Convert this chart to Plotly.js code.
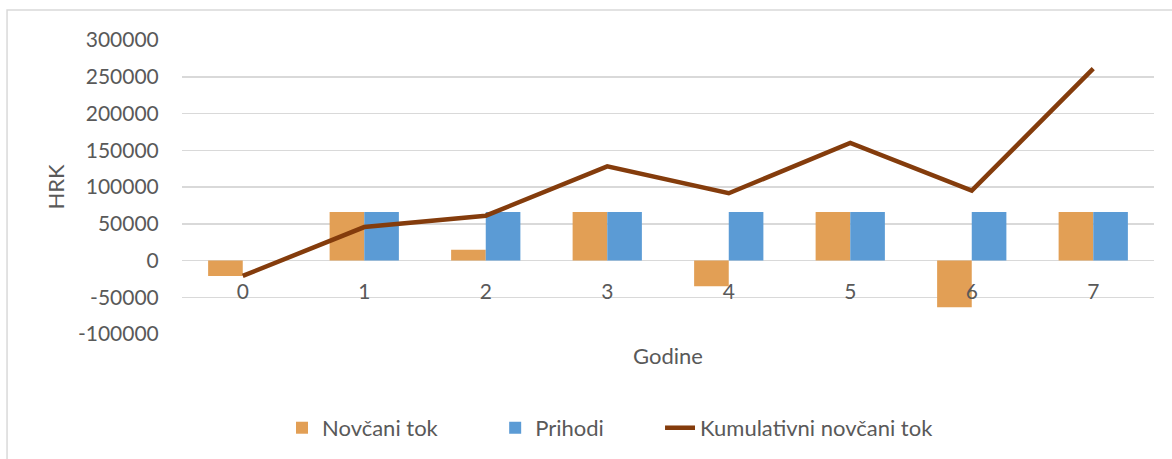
<!DOCTYPE html>
<html>
<head>
<meta charset="utf-8">
<script src="https://cdn.plot.ly/plotly-3.0.1.min.js"></script>
<style>
html,body{margin:0;padding:0;background:#fff;}
#chart{width:1172px;height:459px;}
</style>
</head>
<body>
<div id="chart"></div>
<script>
const years = ["0","1","2","3","4","5","6","7"];
const novcaniTok = [-21000, 66000, 14500, 66000, -35000, 66000, -63500, 66000];
const prihodi = [0, 66000, 66000, 66000, 66000, 66000, 66000, 66000];
const kumulativni = [-21000, 45500, 61000, 128000, 91500, 160000, 95000, 261000];
const yTicks = [-100000, -50000, 0, 50000, 100000, 150000, 200000, 250000, 300000];

const FONT = "Lato, 'Open Sans', sans-serif";
const GREY = "#595959";

const traces = [
  {type:"bar", name:"Novčani tok", x:years, y:novcaniTok, marker:{color:"#E29F55"}, legend:"legend"},
  {type:"bar", name:"Prihodi", x:years, y:prihodi, marker:{color:"#5B9BD5"}, legend:"legend2"},
  {type:"scatter", mode:"lines", name:"Kumulativni novčani tok", x:years, y:kumulativni,
   line:{color:"#843C0C", width:4.5}, legend:"legend3"}
];

const legendStyle = (x) => ({orientation:"h", x:x, xanchor:"left", y:-0.315, yanchor:"middle",
  font:{family:FONT, size:22, color:GREY}, bgcolor:"rgba(0,0,0,0)"});

const layout = {
  width:1172, height:459,
  margin:{l:182, r:18, t:40, b:124},
  paper_bgcolor:"#fff", plot_bgcolor:"#fff",
  font:{family:FONT, color:GREY, size:21},
  barmode:"group", bargap:0.43, bargroupgap:0,
  showlegend:true,
  legend:legendStyle(0.1029),
  legend2:legendStyle(0.3222),
  legend3:legendStyle(0.4918),
  xaxis:{type:"category", anchor:"free", position:0.25, showgrid:false, zeroline:false,
         showline:false, ticks:"outside", ticklen:12, tickcolor:"rgba(0,0,0,0)",
         tickfont:{family:FONT, size:21, color:GREY},
         title:{text:"Godine", font:{family:FONT, size:22, color:GREY}, standoff:46}},
  yaxis:{range:[-100000,300000], tickmode:"array", tickvals:yTicks, ticktext:yTicks.map(String),
         showgrid:true, gridcolor:"#D9D9D9", gridwidth:1.5, zeroline:false, showline:false,
         ticks:"outside", ticklen:18, tickcolor:"rgba(0,0,0,0)",
         tickfont:{family:FONT, size:21, color:GREY},
         title:{text:"HRK", font:{family:FONT, size:22, color:GREY}, standoff:7}},
  shapes:[{type:"rect", xref:"paper", yref:"paper", x0:-0.18, x1:1.1, y0:-0.6, y1:1.1017,
           line:{color:"#D9D9D9", width:1.5}, fillcolor:"rgba(0,0,0,0)", layer:"below"}]
};

Plotly.newPlot("chart", traces, layout, {displayModeBar:false, staticPlot:true});
</script>
</body>
</html>
